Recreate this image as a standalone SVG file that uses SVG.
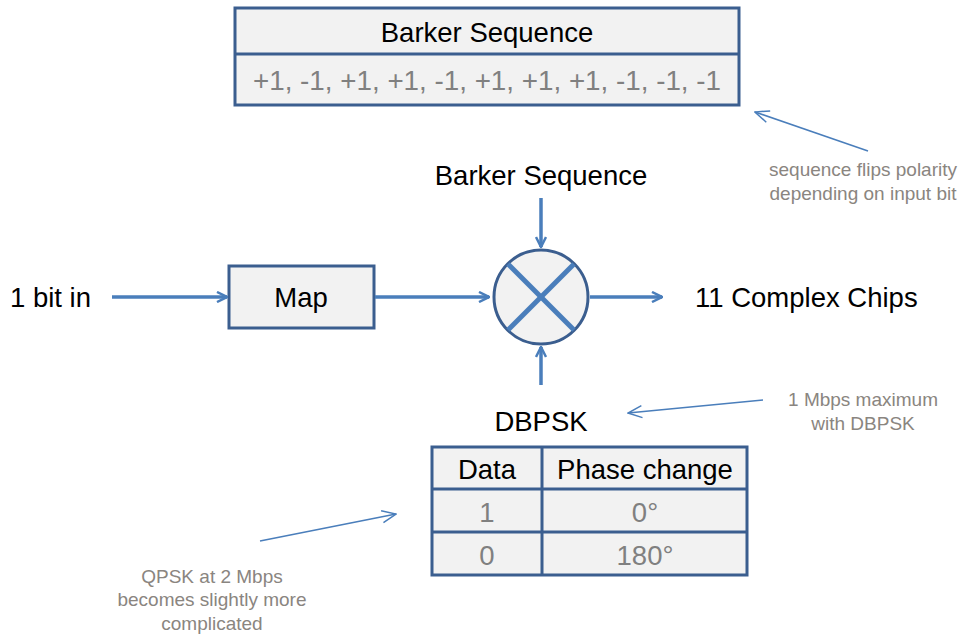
<svg xmlns="http://www.w3.org/2000/svg" width="964" height="635" viewBox="0 0 964 635">
<defs>
<style>
.box{fill:#f2f2f2;stroke:#3b5e8f;stroke-width:3}
.big{font-family:"Liberation Sans",Arial,sans-serif;font-size:27.5px;fill:#000}
.val{font-family:"Liberation Sans",Arial,sans-serif;font-size:27.5px;fill:#808080}
.note{font-family:"Liberation Sans",Arial,sans-serif;font-size:19px;fill:#8a8580}
.conn{stroke:#4a7ebb;stroke-width:3.5;fill:none}
.thin{stroke:#4a7ebb;stroke-width:1.5;fill:none}
</style>
<marker id="ah" viewBox="0 0 12 12" refX="11" refY="6" markerWidth="12" markerHeight="12" markerUnits="userSpaceOnUse" orient="auto">
<path d="M1,1 L11,6 L1,11" fill="none" stroke="#4a7ebb" stroke-width="2.5"/>
</marker>
<marker id="ahs" viewBox="0 0 16 16" refX="15" refY="8" markerWidth="16" markerHeight="16" markerUnits="userSpaceOnUse" orient="auto">
<path d="M1,2 L15,8 L1,14" fill="none" stroke="#4a7ebb" stroke-width="1.5"/>
</marker>
</defs>
<rect width="964" height="635" fill="#fff"/>

<g id="barker-table">
<rect class="box" x="235" y="8" width="504" height="97"/>
<line x1="235" y1="54" x2="739" y2="54" stroke="#3b5e8f" stroke-width="3"/>
<text class="big" x="487" y="42" text-anchor="middle">Barker Sequence</text>
<text class="val" x="487" y="90" text-anchor="middle" textLength="468" lengthAdjust="spacingAndGlyphs">+1, -1, +1, +1, -1, +1, +1, +1, -1, -1, -1</text>
</g>

<g id="input-label"><text class="big" x="10" y="307">1 bit in</text></g>

<g id="map">
<rect class="box" x="229" y="266" width="145" height="62"/>
<text class="big" x="301" y="307" text-anchor="middle">Map</text>
</g>

<g id="multiplier">
<circle cx="541" cy="297" r="47" fill="#f2f2f2" stroke="#3b5e8f" stroke-width="3"/>
<line x1="508" y1="264" x2="574" y2="330" stroke="#4a7ebb" stroke-width="5"/>
<line x1="574" y1="264" x2="508" y2="330" stroke="#4a7ebb" stroke-width="5"/>
</g>

<g id="barker-label"><text class="big" x="541" y="185" text-anchor="middle">Barker Sequence</text></g>
<g id="output-label"><text class="big" x="695" y="307">11 Complex Chips</text></g>
<g id="dbpsk-label"><text class="big" x="541" y="431" text-anchor="middle">DBPSK</text></g>

<g id="dbpsk-table">
<rect class="box" x="432" y="447" width="315" height="128"/>
<line x1="432" y1="489" x2="747" y2="489" stroke="#3b5e8f" stroke-width="3"/>
<line x1="432" y1="532" x2="747" y2="532" stroke="#3b5e8f" stroke-width="3"/>
<line x1="542" y1="447" x2="542" y2="575" stroke="#3b5e8f" stroke-width="3"/>
<text class="big" x="487" y="479" text-anchor="middle">Data</text>
<text class="big" x="645" y="479" text-anchor="middle">Phase change</text>
<text class="val" x="487" y="522" text-anchor="middle">1</text>
<text class="val" x="645" y="522" text-anchor="middle">0°</text>
<text class="val" x="487" y="565" text-anchor="middle">0</text>
<text class="val" x="645" y="565" text-anchor="middle">180°</text>
</g>

<g id="note-polarity">
<text class="note" x="863" y="176" text-anchor="middle">sequence flips polarity</text>
<text class="note" x="863" y="200" text-anchor="middle">depending on input bit</text>
</g>
<g id="note-mbps">
<text class="note" x="863" y="406" text-anchor="middle">1 Mbps maximum</text>
<text class="note" x="863" y="430" text-anchor="middle">with DBPSK</text>
</g>
<g id="note-qpsk">
<text class="note" x="212" y="583" text-anchor="middle">QPSK at 2 Mbps</text>
<text class="note" x="212" y="606" text-anchor="middle">becomes slightly more</text>
<text class="note" x="212" y="630" text-anchor="middle">complicated</text>
</g>

<g id="connectors">
<line class="conn" x1="112" y1="297" x2="227" y2="297" marker-end="url(#ah)"/>
<line class="conn" x1="375" y1="297" x2="489" y2="297" marker-end="url(#ah)"/>
<line class="conn" x1="590" y1="297" x2="662" y2="297" marker-end="url(#ah)"/>
<line class="conn" x1="541" y1="198" x2="541" y2="247" marker-end="url(#ah)"/>
<line class="conn" x1="541" y1="385" x2="541" y2="347" marker-end="url(#ah)"/>
<line class="thin" x1="868" y1="151" x2="755" y2="112" marker-end="url(#ahs)"/>
<line class="thin" x1="763" y1="400" x2="628" y2="413" marker-end="url(#ahs)"/>
<line class="thin" x1="260" y1="541" x2="396" y2="514" marker-end="url(#ahs)"/>
</g>
</svg>
